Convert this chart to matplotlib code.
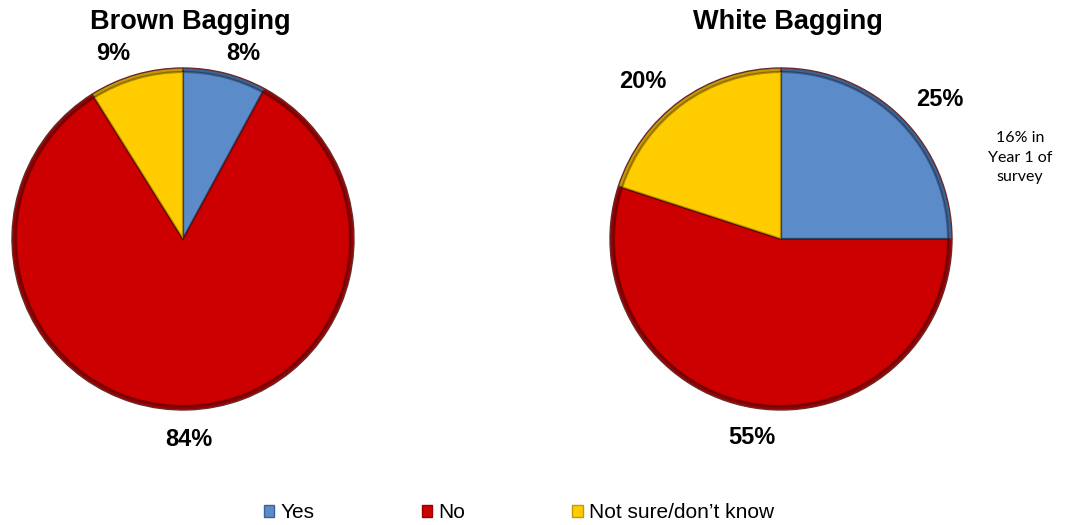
import matplotlib.pyplot as plt
from matplotlib.patches import Patch

# Survey answers for the two bagging questions
categories = ["Yes", "No", "Not sure/don\u2019t know"]
brown_values = [8, 84, 9]
white_values = [25, 55, 20]
titles = ["Brown Bagging", "White Bagging"]

colors = ["#5b8bc9", "#cc0000", "#ffcc00"]
dark_colors = ["#3c6396", "#960000", "#c49a00"]

W, H = 1067, 525
fig = plt.figure(figsize=(W / 100, H / 100), dpi=100)
ax = fig.add_axes([0, 0, 1, 1])

# pie centres / radius in pixel units (y measured from the top)
centers = [(183, 239), (781, 239)]
radius = 171

label_pos = [
    [(243, 53), (189, 439), (113, 53)],
    [(940, 99), (752, 437), (643, 81)],
]

for values, title, (cx, cy), lpos in zip([brown_values, white_values], titles, centers, label_pos):
    center = (cx, H - cy)
    # darker rim underneath gives a bevelled look
    ax.pie(values, colors=dark_colors, startangle=90, counterclock=False,
           radius=radius, center=center, frame=True,
           wedgeprops=dict(linewidth=1.0, edgecolor="#6a2a2a"))
    ax.pie(values, colors=colors, startangle=90, counterclock=False,
           radius=radius - 4, center=center, frame=True,
           wedgeprops=dict(linewidth=1.6, edgecolor="#00000050"))
    ax.text(cx + 7, H - 22, title, ha="center", va="center",
            fontsize=19.5, fontweight="bold", family="Liberation Sans")
    for v, (lx, ly) in zip(values, lpos):
        ax.text(lx, H - ly, f"{v}%", ha="center", va="center",
                fontsize=17, fontweight="bold", family="Liberation Sans")

ax.set_xlim(0, W)
ax.set_ylim(0, H)
ax.set_aspect("equal")
ax.axis("off")

ax.text(1020, H - 158, "16% in\nYear 1 of\nsurvey", ha="center", va="center",
        fontsize=11.5, family="Lato", linespacing=1.5)

handles = [Patch(facecolor=c, edgecolor=d) for c, d in zip(colors, dark_colors)]
fig.legend(handles, categories, loc="center", bbox_to_anchor=(519 / W, 1 - 513 / H),
           ncol=3, frameon=False, handlelength=0.5, handleheight=0.5,
           handletextpad=0.3, columnspacing=5.15,
           prop=dict(family="Liberation Sans", size=15))

fig.savefig("out.png", dpi=100)
